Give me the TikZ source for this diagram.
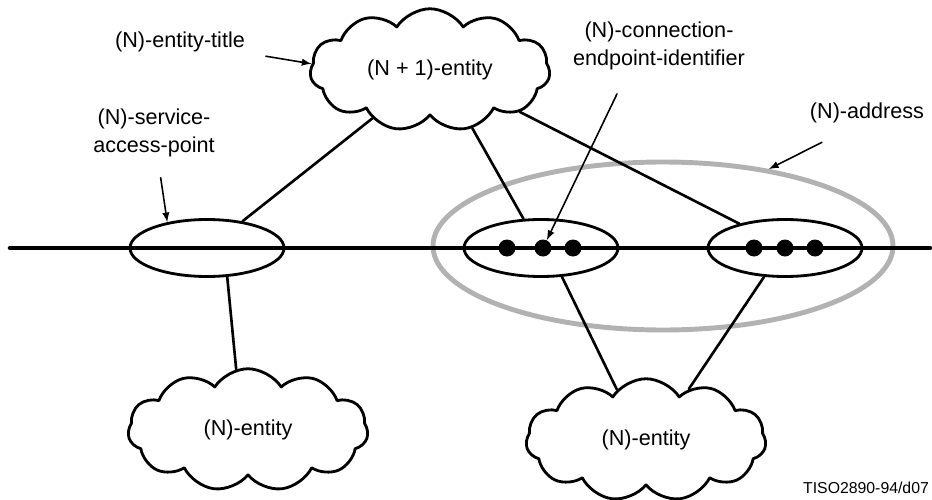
\documentclass[tikz,border=0pt]{standalone}
\usepackage{fontspec}
\setmainfont{Liberation Sans}
\usetikzlibrary{arrows,shapes.geometric,shapes.symbols}
\definecolor{addrgray}{rgb}{0.70,0.70,0.70}

\begin{document}
\begin{tikzpicture}[x=0.2mm,y=-0.2mm,line cap=round,line join=round,>=latex,
  every node/.style={font=\fontsize{12.3}{15.5}\selectfont},
  entity/.style={cloud,cloud puffs=11,cloud puff arc=115,aspect=2.1,draw,line width=1.6pt,
    minimum width=4.8cm,minimum height=2.45cm,inner sep=0pt},
  sap/.style={ellipse,draw,line width=1.6pt,minimum width=3.08cm,minimum height=1.14cm,inner sep=0pt},
  cep/.style={circle,fill,inner sep=0pt,minimum size=3.4mm},
  link/.style={line width=1.5pt},
  pointer/.style={->,line width=0.9pt}]
\useasboundingbox (0,0) rectangle (932,500);
% (N)-address
\node[ellipse,draw=addrgray,line width=2.8pt,minimum width=9.2cm,minimum height=3.36cm] (addr) at (663,246) {};
% the (N)-layer
\coordinate (west) at (10,248);
\coordinate (east) at (930,248);
\draw[line width=2.6pt] (west) -- (east);
\node[sap] (sapL) at (207,248) {};
\node[sap] (sapM) at (541,248) {};
\node[sap] (sapR) at (785,248) {};
\foreach \x/\n in {507/m1,543/m2,573/m3,754/r1,785/r2,815/r3}
  \node[cep] (\n) at (\x,248) {};
% entities
\node[entity] (upper) at (430,70) {(N + 1)-entity};
\node[entity] (lowL) at (248,430) {(N)-entity};
\node[entity] (lowR) at (646,440) {(N)-entity};
\draw[link] (upper.-140) -- (sapL.37);
\draw[link] (upper.-54) -- (sapM.121);
\draw[link] (upper.-25) -- (sapR.152);
\draw[link] (sapL.-55) -- (lowL.101);
\draw[link] (sapM.-54) -- (lowR.120);
\draw[link] (sapR.-126) -- (lowR.50);
% labels
\node (title) at (180,42) {(N)-entity-title};
\node[align=center] (sapname) at (154,133) {(N)-service-\\access-point};
\node[align=center] (cepname) at (659,46) {(N)-connection-\\endpoint-identifier};
\node (addrname) at (867,113) {(N)-address};
\node[font=\fontsize{9}{10}\selectfont] (ref) at (866,488) {TISO2890-94/d07};
\draw[pointer,shorten <=3mm] (title) -- (upper.177);
\draw[pointer,shorten <=3mm] (sapname) -- (sapL.147);
\draw[pointer] ([shift={(-42,18)}]cepname.south) -- (m2);
\draw[pointer] ([shift={(-45,13)}]addrname.south) -- (addr.36);
\end{tikzpicture}
\end{document}
